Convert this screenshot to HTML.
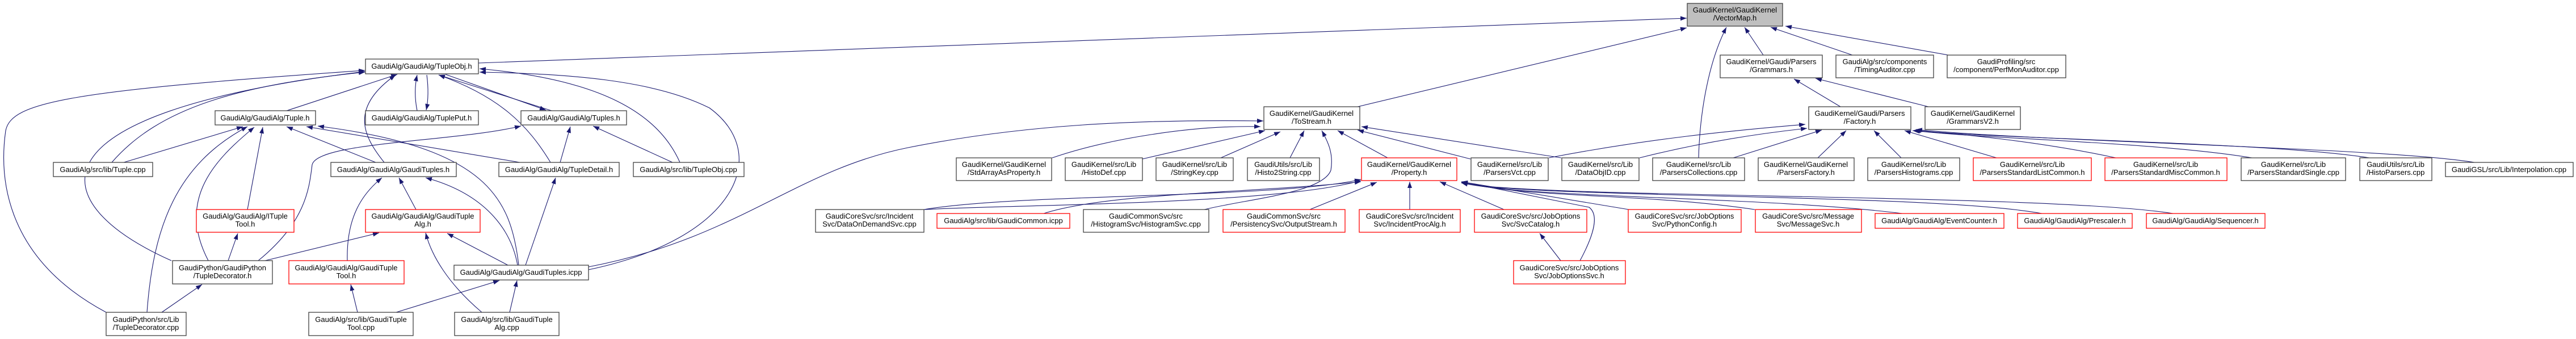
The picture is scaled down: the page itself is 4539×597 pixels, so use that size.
<!DOCTYPE html>
<html><head><meta charset="utf-8"><style>
html,body{margin:0;padding:0;background:#fff;}
svg{display:block;}
text{font-family:"Liberation Sans",sans-serif;font-size:13px;fill:#000;text-anchor:middle;}
.n{fill:#fff;stroke:#404040;stroke-width:1.3;}
.r{fill:#fff;stroke:#ff0000;stroke-width:1.3;}
.g{fill:#bfbfbf;stroke:#404040;stroke-width:1.3;}
path.e{fill:none;stroke:#191970;stroke-width:1.1;marker-end:url(#a);}
</style></head><body>
<svg width="4539" height="597" viewBox="0 0 4539 597" xmlns="http://www.w3.org/2000/svg">
<defs><marker id="a" markerUnits="userSpaceOnUse" markerWidth="11" markerHeight="8" refX="11" refY="4" orient="auto"><path d="M0,0 L11,4 L0,8 z" fill="#191970"/></marker></defs>

<!-- edges left cluster -->
<path class="e" d="M843,111 L2972,32"/>
<path class="e" d="M505,195 L700,131"/>
<path class="e" d="M735,195 C730,170 731,150 735,132"/>
<path class="e" d="M752,132 C755,155 755,175 751,194"/>
<path class="e" d="M972,195 L773,132"/>
<path class="e" d="M785,131 L962,194"/>
<path class="e" d="M677,286 C640,240 615,190 697,132"/>
<path class="e" d="M970,286 C930,220 880,170 773,132"/>
<path class="e" d="M1198,286 C1160,200 1060,140 845,121"/>
<path class="e" d="M197,286 C280,190 420,150 643,127"/>
<path class="e" d="M302,459 C80,360 30,200 643,126"/>
<path class="e" d="M187,550 C0,450 0,300 10,230 C20,180 120,160 643,124"/>
<path class="e" d="M1037,475 C1300,420 1360,270 1250,190 C1150,140 1000,130 845,127"/>
<path class="e" d="M1037,470 C1300,420 1400,300 1600,260 C1800,220 2000,210 2226,213"/>
<path class="e" d="M218,286 L428,223"/>
<path class="e" d="M662,286 L505,223"/>
<path class="e" d="M916,286 L540,223"/>
<path class="e" d="M914,467 C900,350 860,260 560,222"/>
<path class="e" d="M436,369 L463,224"/>
<path class="e" d="M367,459 C310,350 380,280 448,224"/>
<path class="e" d="M259,550 C270,400 310,290 436,223"/>
<path class="e" d="M987,286 L1005,223"/>
<path class="e" d="M1185,286 L1045,222"/>
<path class="e" d="M455,459 C540,390 545,330 550,290 C560,250 800,250 918,222"/>
<path class="e" d="M733,369 L703,313"/>
<path class="e" d="M612,459 C610,380 640,340 673,313"/>
<path class="e" d="M912,467 C900,400 850,340 750,313"/>
<path class="e" d="M926,467 L979,313"/>
<path class="e" d="M467,459 L668,410"/>
<path class="e" d="M402,459 L419,411"/>
<path class="e" d="M895,467 L788,411"/>
<path class="e" d="M285,550 L356,501"/>
<path class="e" d="M630,550 L618,501"/>
<path class="e" d="M698,550 L880,494"/>
<path class="e" d="M898,550 L911,494"/>
<path class="e" d="M849,550 C790,500 760,450 750,410"/>

<!-- ToStream -->
<path class="e" d="M2392,188 L2972,49"/>
<path class="e" d="M1854,278 C1950,245 2100,220 2221,223"/>
<path class="e" d="M2013,280 L2229,230"/>
<path class="e" d="M2151,278 L2256,232"/>
<path class="e" d="M2273,278 L2298,230"/>
<path class="e" d="M2445,278 L2357,230"/>
<path class="e" d="M2591,280 L2392,229"/>
<path class="e" d="M2751,278 L2399,223"/>
<path class="e" d="M2122,369 C2200,350 2330,340 2345,300 C2350,270 2340,250 2329,230"/>

<!-- Property -->
<path class="e" d="M1628,369 C1800,340 2250,350 2398,316"/>
<path class="e" d="M1628,369 C1800,360 2250,360 2398,318"/>
<path class="e" d="M1839,376 C1950,340 2200,340 2398,320"/>
<path class="e" d="M2308,369 L2426,321"/>
<path class="e" d="M2484,369 L2484,320"/>
<path class="e" d="M2650,369 L2537,320"/>
<path class="e" d="M2784,459 C2805,420 2820,380 2800,365 L2575,320"/>
<path class="e" d="M2870,369 L2575,320"/>
<path class="e" d="M3092,369 C2900,340 2700,350 2575,321"/>
<path class="e" d="M3352,376 C3100,345 2700,350 2575,322"/>
<path class="e" d="M3598,376 C3400,340 2700,350 2575,322"/>
<path class="e" d="M3829,376 C3600,340 2700,350 2575,322"/>
<path class="e" d="M2750,459 L2713,411"/>

<!-- VectorMap -->
<path class="e" d="M2993,278 C2995,200 3010,110 3042,48"/>
<path class="e" d="M3107,97 L3074,48"/>
<path class="e" d="M3264,97 L3120,48"/>
<path class="e" d="M3433,97 L3146,46"/>
<path class="e" d="M3243,188 L3161,139"/>
<path class="e" d="M3398,188 L3199,138"/>

<!-- Factory -->
<path class="e" d="M2729,278 C2900,245 3050,230 3181,219"/>
<path class="e" d="M2889,278 C3000,250 3100,235 3184,226"/>
<path class="e" d="M3054,278 L3210,229"/>
<path class="e" d="M3203,278 L3253,230"/>
<path class="e" d="M3350,278 L3302,230"/>
<path class="e" d="M3518,278 L3356,230"/>
<path class="e" d="M3728,278 C3600,250 3450,235 3370,230"/>
<path class="e" d="M3968,278 C3800,250 3500,245 3372,230"/>
<path class="e" d="M4175,278 C4000,250 3500,245 3374,229"/>
<path class="e" d="M4360,286 C4200,260 3600,250 3376,228"/>

<!-- nodes -->
<rect class="n" x="644" y="104" width="199" height="26"/><text x="743" y="121">GaudiAlg/GaudiAlg/TupleObj.h</text>
<rect class="n" x="379" y="195" width="177" height="25"/><text x="467" y="212">GaudiAlg/GaudiAlg/Tuple.h</text>
<rect class="n" x="644" y="195" width="199" height="25"/><text x="743" y="212">GaudiAlg/GaudiAlg/TuplePut.h</text>
<rect class="n" x="918" y="195" width="186" height="25"/><text x="1011" y="212">GaudiAlg/GaudiAlg/Tuples.h</text>
<rect class="n" x="94" y="286" width="175" height="25"/><text x="181" y="303">GaudiAlg/src/lib/Tuple.cpp</text>
<rect class="n" x="583" y="286" width="221" height="25"/><text x="693" y="303">GaudiAlg/GaudiAlg/GaudiTuples.h</text>
<rect class="n" x="879" y="286" width="212" height="25"/><text x="985" y="303">GaudiAlg/GaudiAlg/TupleDetail.h</text>
<rect class="n" x="1116" y="286" width="195" height="25"/><text x="1213" y="303">GaudiAlg/src/lib/TupleObj.cpp</text>
<rect class="r" x="346" y="369" width="172" height="40"/><text x="432" y="385">GaudiAlg/GaudiAlg/ITuple</text><text x="432" y="399">Tool.h</text>
<rect class="r" x="644" y="369" width="202" height="40"/><text x="745" y="385">GaudiAlg/GaudiAlg/GaudiTuple</text><text x="745" y="399">Alg.h</text>
<rect class="n" x="304" y="459" width="176" height="41"/><text x="392" y="476">GaudiPython/GaudiPython</text><text x="392" y="490">/TupleDecorator.h</text>
<rect class="r" x="509" y="459" width="203" height="41"/><text x="610" y="476">GaudiAlg/GaudiAlg/GaudiTuple</text><text x="610" y="490">Tool.h</text>
<rect class="n" x="800" y="467" width="237" height="26"/><text x="918" y="484">GaudiAlg/GaudiAlg/GaudiTuples.icpp</text>
<rect class="n" x="187" y="550" width="141" height="41"/><text x="257" y="567">GaudiPython/src/Lib</text><text x="257" y="581">/TupleDecorator.cpp</text>
<rect class="n" x="544" y="550" width="184" height="41"/><text x="636" y="567">GaudiAlg/src/lib/GaudiTuple</text><text x="636" y="581">Tool.cpp</text>
<rect class="n" x="801" y="550" width="184" height="41"/><text x="893" y="567">GaudiAlg/src/lib/GaudiTuple</text><text x="893" y="581">Alg.cpp</text>

<rect class="n" x="2227" y="188" width="169" height="40"/><text x="2311" y="204">GaudiKernel/GaudiKernel</text><text x="2311" y="218">/ToStream.h</text>
<rect class="n" x="1685" y="278" width="168" height="40"/><text x="1769" y="294">GaudiKernel/GaudiKernel</text><text x="1769" y="308">/StdArrayAsProperty.h</text>
<rect class="n" x="1877" y="278" width="136" height="40"/><text x="1945" y="294">GaudiKernel/src/Lib</text><text x="1945" y="308">/HistoDef.cpp</text>
<rect class="n" x="2037" y="278" width="136" height="40"/><text x="2105" y="294">GaudiKernel/src/Lib</text><text x="2105" y="308">/StringKey.cpp</text>
<rect class="n" x="2198" y="278" width="127" height="40"/><text x="2261" y="294">GaudiUtils/src/Lib</text><text x="2261" y="308">/Histo2String.cpp</text>
<rect class="n" x="1437" y="369" width="191" height="40"/><text x="1532" y="385">GaudiCoreSvc/src/Incident</text><text x="1532" y="399">Svc/DataOnDemandSvc.cpp</text>
<rect class="r" x="1651" y="376" width="234" height="26"/><text x="1768" y="393">GaudiAlg/src/lib/GaudiCommon.icpp</text>
<rect class="n" x="1909" y="369" width="221" height="40"/><text x="2019" y="385">GaudiCommonSvc/src</text><text x="2019" y="399">/HistogramSvc/HistogramSvc.cpp</text>
<rect class="r" x="2155" y="369" width="215" height="40"/><text x="2262" y="385">GaudiCommonSvc/src</text><text x="2262" y="399">/PersistencySvc/OutputStream.h</text>

<rect class="g" x="2973" y="6" width="168" height="40"/><text x="3057" y="22">GaudiKernel/GaudiKernel</text><text x="3057" y="36">/VectorMap.h</text>
<rect class="n" x="3031" y="97" width="180" height="40"/><text x="3121" y="113">GaudiKernel/Gaudi/Parsers</text><text x="3121" y="127">/Grammars.h</text>
<rect class="n" x="3235" y="97" width="172" height="40"/><text x="3321" y="113">GaudiAlg/src/components</text><text x="3321" y="127">/TimingAuditor.cpp</text>
<rect class="n" x="3431" y="97" width="209" height="40"/><text x="3535" y="113">GaudiProfiling/src</text><text x="3535" y="127">/component/PerfMonAuditor.cpp</text>
<rect class="n" x="3187" y="188" width="180" height="40"/><text x="3277" y="204">GaudiKernel/Gaudi/Parsers</text><text x="3277" y="218">/Factory.h</text>
<rect class="n" x="3392" y="188" width="168" height="40"/><text x="3476" y="204">GaudiKernel/GaudiKernel</text><text x="3476" y="218">/GrammarsV2.h</text>

<rect class="r" x="2399" y="278" width="168" height="40"/><text x="2483" y="294">GaudiKernel/GaudiKernel</text><text x="2483" y="308">/Property.h</text>
<rect class="n" x="2592" y="278" width="136" height="40"/><text x="2660" y="294">GaudiKernel/src/Lib</text><text x="2660" y="308">/ParsersVct.cpp</text>
<rect class="n" x="2752" y="278" width="136" height="40"/><text x="2820" y="294">GaudiKernel/src/Lib</text><text x="2820" y="308">/DataObjID.cpp</text>
<rect class="n" x="2912" y="278" width="162" height="40"/><text x="2993" y="294">GaudiKernel/src/Lib</text><text x="2993" y="308">/ParsersCollections.cpp</text>
<rect class="n" x="3098" y="278" width="169" height="40"/><text x="3182" y="294">GaudiKernel/GaudiKernel</text><text x="3182" y="308">/ParsersFactory.h</text>
<rect class="n" x="3291" y="278" width="162" height="40"/><text x="3372" y="294">GaudiKernel/src/Lib</text><text x="3372" y="308">/ParsersHistograms.cpp</text>
<rect class="r" x="3477" y="278" width="208" height="40"/><text x="3581" y="294" text-anchor="middle">GaudiKernel/src/Lib</text><text x="3581" y="308">/ParsersStandardListCommon.h</text>
<rect class="r" x="3709" y="278" width="215" height="40"/><text x="3816" y="294">GaudiKernel/src/Lib</text><text x="3816" y="308">/ParsersStandardMiscCommon.h</text>
<rect class="n" x="3949" y="278" width="184" height="40"/><text x="4041" y="294">GaudiKernel/src/Lib</text><text x="4041" y="308">/ParsersStandardSingle.cpp</text>
<rect class="n" x="4158" y="278" width="127" height="40"/><text x="4221" y="294">GaudiUtils/src/Lib</text><text x="4221" y="308">/HistoParsers.cpp</text>
<rect class="n" x="4309" y="286" width="225" height="25"/><text x="4421" y="303">GaudiGSL/src/Lib/Interpolation.cpp</text>

<rect class="r" x="2395" y="369" width="178" height="40"/><text x="2484" y="385">GaudiCoreSvc/src/Incident</text><text x="2484" y="399">Svc/IncidentProcAlg.h</text>
<rect class="r" x="2598" y="369" width="198" height="40"/><text x="2697" y="385">GaudiCoreSvc/src/JobOptions</text><text x="2697" y="399">Svc/SvcCatalog.h</text>
<rect class="r" x="2869" y="369" width="199" height="40"/><text x="2968" y="385">GaudiCoreSvc/src/JobOptions</text><text x="2968" y="399">Svc/PythonConfig.h</text>
<rect class="r" x="3093" y="369" width="187" height="40"/><text x="3186" y="385">GaudiCoreSvc/src/Message</text><text x="3186" y="399">Svc/MessageSvc.h</text>
<rect class="r" x="3304" y="376" width="227" height="26"/><text x="3417" y="393">GaudiAlg/GaudiAlg/EventCounter.h</text>
<rect class="r" x="3555" y="376" width="202" height="26"/><text x="3656" y="393">GaudiAlg/GaudiAlg/Prescaler.h</text>
<rect class="r" x="3782" y="376" width="209" height="26"/><text x="3886" y="393">GaudiAlg/GaudiAlg/Sequencer.h</text>
<rect class="r" x="2667" y="459" width="197" height="41"/><text x="2765" y="476">GaudiCoreSvc/src/JobOptions</text><text x="2765" y="490">Svc/JobOptionsSvc.h</text>
</svg>
</body></html>
